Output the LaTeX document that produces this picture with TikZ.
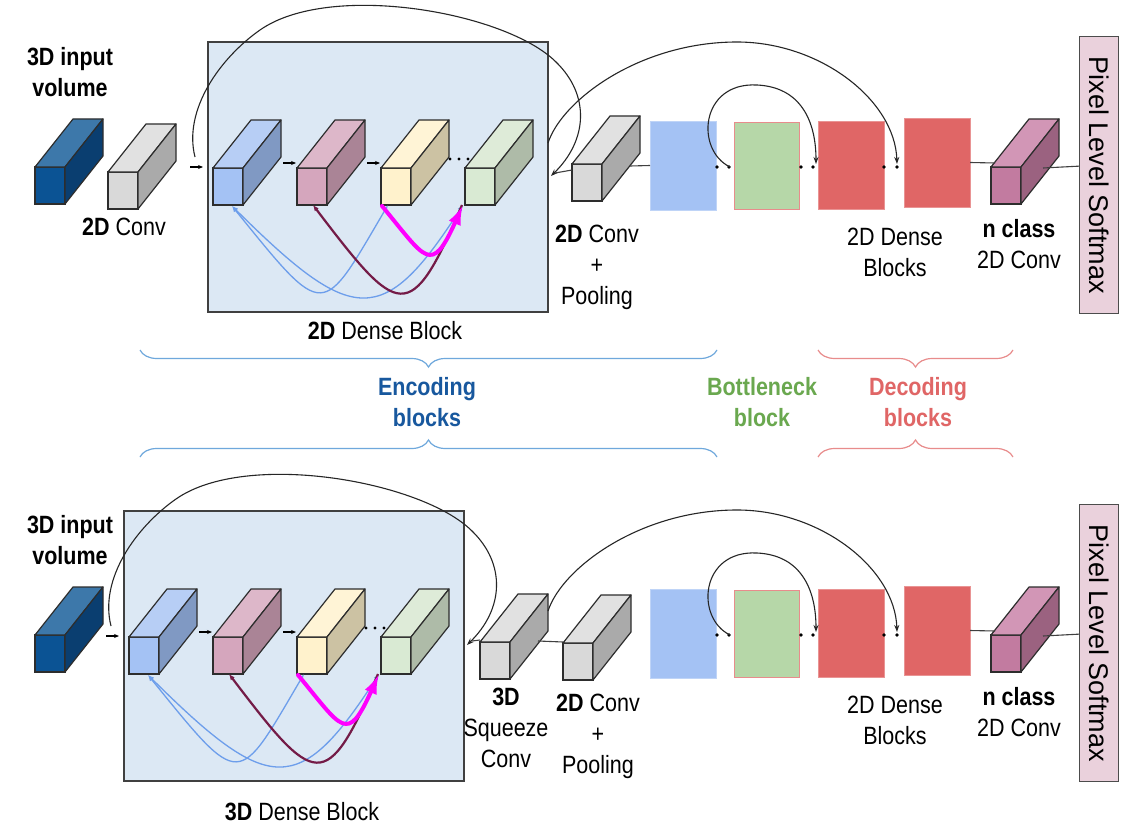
\documentclass[tikz,border=0pt]{standalone}
\usepackage{fontspec}
\setmainfont{Liberation Sans}[FakeStretch=0.86]
\newfontfamily\widefont{Liberation Sans}
\usetikzlibrary{arrows.meta,decorations.pathreplacing,calc}

\definecolor{edgeC}{RGB}{45,45,45}
\definecolor{dbF}{RGB}{11,83,148}
\definecolor{dbT}{RGB}{61,120,170}
\definecolor{dbS}{RGB}{10,62,112}
\definecolor{gyF}{RGB}{217,217,217}
\definecolor{gyT}{RGB}{225,225,225}
\definecolor{gyS}{RGB}{170,170,170}
\definecolor{cbF}{RGB}{164,194,244}
\definecolor{cbT}{RGB}{183,206,245}
\definecolor{cbS}{RGB}{128,153,195}
\definecolor{cpF}{RGB}{213,166,189}
\definecolor{cpT}{RGB}{221,183,201}
\definecolor{cpS}{RGB}{170,132,150}
\definecolor{cyF}{RGB}{255,242,204}
\definecolor{cyT}{RGB}{255,244,214}
\definecolor{cyS}{RGB}{204,194,163}
\definecolor{cgF}{RGB}{217,234,211}
\definecolor{cgT}{RGB}{222,235,216}
\definecolor{cgS}{RGB}{174,187,168}
\definecolor{ncF}{RGB}{194,123,160}
\definecolor{ncT}{RGB}{210,150,182}
\definecolor{ncS}{RGB}{155,98,128}
\definecolor{blkC}{RGB}{220,232,244}
\definecolor{sqBlue}{RGB}{164,194,244}
\definecolor{sqGreen}{RGB}{182,215,168}
\definecolor{sqRed}{RGB}{224,102,102}
\definecolor{smC}{RGB}{234,209,220}
\definecolor{encC}{RGB}{24,88,158}
\definecolor{encB}{RGB}{111,168,220}
\definecolor{botC}{RGB}{106,168,79}
\definecolor{decC}{RGB}{224,102,102}
\definecolor{decB}{RGB}{232,140,140}
\definecolor{lnkBlue}{RGB}{109,158,235}
\definecolor{lnkMaroon}{RGB}{116,27,71}
\definecolor{lnkMag}{RGB}{255,0,255}

\newcommand\lbl{\fontsize{25}{31}\selectfont}

\tikzset{
 cubeface/.style={draw=edgeC, line width=1.2pt, minimum width=30pt, minimum height=37pt, inner sep=0pt, outer sep=0pt, anchor=north west},
 cubeline/.style={draw=edgeC, line width=1.2pt, line join=round},
 dblock/.style={draw=black!75, line width=1.3pt, fill=blkC, minimum width=340pt, minimum height=270pt, inner sep=0pt},
 sq/.style={minimum width=66pt, minimum height=89pt, inner sep=0pt, outer sep=0pt, anchor=north west},
 txt/.style={font=\lbl, align=center, inner sep=0pt},
 skiparc/.style={draw=black!85, line width=1.1pt, -{Stealth[length=7pt,width=5pt]}},
 stepar/.style={draw=black, line width=1.1pt, -{Stealth[length=5pt,width=4pt]}},
 lnkb/.style={draw=lnkBlue, line width=1.3pt, {Latex[length=6pt,width=5pt]}-{Latex[length=6pt,width=5pt]}},
 lnkm/.style={draw=lnkMaroon, line width=2.2pt, {Latex[length=6pt,width=5pt]}-},
 lnkg/.style={draw=lnkMag, line width=4pt, line cap=round, -{Latex[length=20pt,width=13pt]}},
 flow/.style={draw=black!75, line width=1.1pt},
 bracedn/.style={decorate, decoration={brace, mirror, amplitude=17pt}, line width=1.2pt},
 braceup/.style={decorate, decoration={brace, amplitude=17pt}, line width=1.2pt},
}

\newcommand\mycube[5]{%
 \node[cubeface, fill=#3] (#1) at #2 {};
 \draw[cubeline, fill=#4] (#1.north west) -- ++(38,-48) -- ++(30,0) -- (#1.north east) -- cycle;
 \draw[cubeline, fill=#5] (#1.north east) -- ++(38,-48) -- ++(0,37) -- (#1.south east) -- cycle;
}

\newcommand\denseblock[2]{%
\begin{scope}[shift={#2}]
 \node[dblock] (#1blk) at (378,177) {};
 \mycube{#1d1}{(213,168)}{cbF}{cbT}{cbS}
 \mycube{#1d2}{(297,168)}{cpF}{cpT}{cpS}
 \mycube{#1d3}{(381,168)}{cyF}{cyT}{cyS}
 \fill[black] (450,159) circle (1.6) (459,159) circle (1.6) (468,159) circle (1.6);
 \mycube{#1d4}{(465,168)}{cgF}{cgT}{cgS}
 \draw[stepar] ([shift={(-23,-1)}]#1d1.north west) -- ([shift={(-10,-1)}]#1d1.north west);
 \draw[stepar] ([shift={(40,-5)}]#1d1.north east) -- ([shift={(-1,-5)}]#1d2.north west);
 \draw[stepar] ([shift={(40,-5)}]#1d2.north east) -- ([shift={(-1,-5)}]#1d3.north west);
 \draw[lnkb] ([shift={(19,1)}]#1d1.south west) .. controls (326,322) and (321,319) .. ([shift={(7,0)}]#1d3.south west);
 \draw[lnkb] ([shift={(19,1)}]#1d1.south west) .. controls (353,326) and (383,329) .. ([shift={(-2,0)}]#1d4.south west);
 \draw[lnkm] ([shift={(16,0)}]#1d2.south west) .. controls (399,318) and (410,327) .. ([shift={(-3,0)}]#1d4.south west);
 \draw[lnkg] ([shift={(1,1)}]#1d3.south west) .. controls (426,259) and (431,276) .. ([shift={(-2,0)}]#1d4.south west);
 \coordinate (#1aS) at (195,157);
 \coordinate (#1aE) at (551,176);
 \draw[skiparc] (#1aS) .. controls (183,110) and (220,58) .. (260,30) .. controls (330,-19) and (506,12) .. (556,62) .. controls (590,95) and (588,140) .. (#1aE);
\end{scope}}

\newcommand\decoder[2]{%
\begin{scope}[shift={#2}]
 \node[sq, fill=sqBlue, draw=sqBlue!70!white, line width=0.6pt] (#1sb) at (650,121) {};
 \node[sq, fill=sqGreen, draw=decB, line width=0.9pt, minimum width=65pt, minimum height=87pt] (#1sg) at (734,122) {};
 \node[sq, fill=sqRed, draw=sqRed!70!white, line width=0.6pt, minimum height=88pt] (#1sr1) at (818,121) {};
 \node[sq, fill=sqRed, draw=sqRed!70!white, line width=0.6pt] (#1sr2) at (904,118) {};
 \coordinate (#1p1) at (717,167);
 \coordinate (#1p2) at (729,167);
 \coordinate (#1p3) at (801,167);
 \coordinate (#1p4) at (813,167);
 \coordinate (#1p5) at (884,167);
 \coordinate (#1p6) at (897,167);
 \fill[black] (#1p1) circle (1.9) (#1p2) circle (1.9) (#1p3) circle (1.9) (#1p4) circle (1.9) (#1p5) circle (1.9) (#1p6) circle (1.9);
 \coordinate (#1bS) at (548,143);
 \draw[skiparc] (#1bS) .. controls (562,100) and (640,42) .. (737,42) .. controls (820,42) and (895,100) .. ([shift={(0,-3)}]#1p6);
 \draw[skiparc] ([shift={(1,0)}]#1p2) .. controls (695,150) and (700,82) .. (757,85) .. controls (800,87) and (816,120) .. ([shift={(3,-3)}]#1p4);
 \mycube{#1nc}{(991,167)}{ncF}{ncT}{ncS}
 \draw[flow] (#1sr2.east) -- ([shift={(4,-4)}]#1nc.north west);
 \node[draw=black!70, line width=1.3pt, fill=smC, minimum width=39pt, minimum height=277pt, inner sep=0pt, anchor=north west] (#1sm) at (1079,36) {};
 \node[rotate=-90, inner sep=0pt, font=\widefont\fontsize{27}{30}\selectfont] (#1smt) at (#1sm.center) {Pixel Level Softmax};
 \draw[flow] ([shift={(22,1)}]#1nc.north east) -- ([shift={(0,-9)}]#1sm.west);
 \node[txt] (#1dbl) at (895,252) {2D Dense\\Blocks};
 \node[txt] (#1ncl) at (1019,244) {\textbf{n class}\\2D Conv};
\end{scope}}

\begin{document}
\begin{tikzpicture}[x=1pt,y=-1pt]
\fill[white] (0,0) rectangle (1135,832);
\useasboundingbox (0,0) rectangle (1135,832);

% ---------------- top row ----------------
\mycube{TinC}{(35,167)}{dbF}{dbT}{dbS}
\node[txt, font=\lbl\bfseries] (Tin) at (70,72) {3D input\\volume};
\mycube{Tconv}{(108,172)}{gyF}{gyT}{gyS}
\node[txt] (TconvL) at (124,227) {\textbf{2D} Conv};
\denseblock{T}{(0,0)}
\node[txt] (TblkL) at (385,331) {\textbf{2D} Dense Block};
\mycube{Tpool}{(572,164)}{gyF}{gyT}{gyS}
\draw[flow] ([shift={(0,6)}]Tpool.north west) -- ([shift={(4,-3)}]TaE);
\node[txt] (TpoolL) at (597,267) {\textbf{2D} Conv\\+\\Pooling};
\decoder{T}{(0,0)}
\draw[flow] ([shift={(28,2)}]Tpool.north east) -- (Tsb.west);

% ---------------- braces ----------------
\draw[encB, bracedn] (140,350) -- (717,350);
\draw[decB, bracedn] (818,350) -- (1013,350);
\node[txt, text=encC, font=\lbl\bfseries] (encL) at (427,402) {Encoding\\blocks};
\node[txt, text=botC, font=\lbl\bfseries] (botL) at (762,402) {Bottleneck\\block};
\node[txt, text=decC, font=\lbl\bfseries] (decL) at (918,402) {Decoding\\blocks};
\draw[encB, braceup] (140,457) -- (717,457);
\draw[decB, braceup] (818,457) -- (1013,457);

% ---------------- bottom row ----------------
\mycube{BinC}{(35,635)}{dbF}{dbT}{dbS}
\node[txt, font=\lbl\bfseries] (Bin) at (70,540) {3D input\\volume};
\denseblock{B}{(-84,469)}
\node[txt] (BblkL) at (302,812) {\textbf{3D} Dense Block};
\mycube{Bsq}{(480,642)}{gyF}{gyT}{gyS}
\draw[flow] ([shift={(0,-2)}]Bsq.north west) -- ([shift={(5,-4)}]BaE);
\node[txt] (BsqL) at (506,728) {\textbf{3D}\\Squeeze\\Conv};
\mycube{Bpool}{(563,643)}{gyF}{gyT}{gyS}
\draw[flow] ([shift={(28,-1)}]Bsq.north east) -- ([shift={(0,-1)}]Bpool.north west);
\node[txt] (BpoolL) at (598,736) {\textbf{2D} Conv\\+\\Pooling};
\decoder{B}{(0,468)}
\end{tikzpicture}
\end{document}
